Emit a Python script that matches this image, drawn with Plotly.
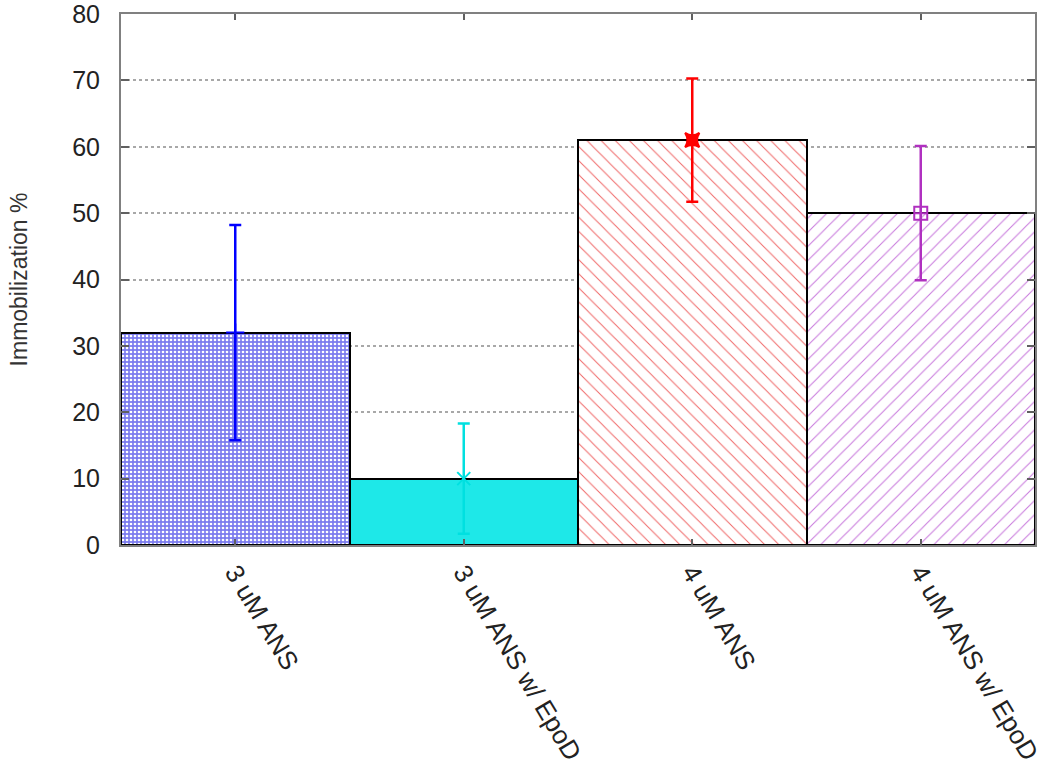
import plotly.graph_objects as go

categories = ["3 uM ANS", "3 uM ANS w/ EpoD", "4 uM ANS", "4 uM ANS w/ EpoD"]
values = [32.0, 10.0, 61.0, 50.0]
errors = [16.2, 8.3, 9.3, 10.1]
y_ticks = [0, 10, 20, 30, 40, 50, 60, 70, 80]

err_colors = ["#0000ff", "#00e0e0", "#ff0000", "#b030c0"]
err_symbols = ["cross-thin", "x-thin", "star-square", "square-cross-open"]

patterns = [
    dict(shape=".", fgcolor="#ffffff", bgcolor="#7c7cee", size=4, solidity=0.35, fillmode="replace"),
    dict(shape="", fgcolor="#1ee8e8", bgcolor="#1ee8e8"),
    dict(shape="\\", fgcolor="#f06868", bgcolor="#ffffff", size=10, solidity=0.1, fillmode="replace"),
    dict(shape="/", fgcolor="#c878dc", bgcolor="#ffffff", size=10, solidity=0.1, fillmode="replace"),
]
fills = ["#7c7cee", "#1ee8e8", "#ffffff", "#ffffff"]

fig = go.Figure()
for i, cat in enumerate(categories):
    fig.add_trace(go.Bar(
        x=[cat], y=[values[i]], width=1.0,
        marker=dict(color=fills[i], pattern=patterns[i], line=dict(color="#000000", width=2)),
        showlegend=False, hoverinfo="skip",
    ))
for i, cat in enumerate(categories):
    fig.add_trace(go.Scatter(
        x=[cat], y=[values[i]], mode="markers",
        marker=dict(symbol=err_symbols[i], color=err_colors[i], size=13,
                    line=dict(color=err_colors[i], width=2)),
        error_y=dict(type="data", array=[errors[i]], color=err_colors[i], thickness=2.5, width=6),
        showlegend=False,
    ))

fig.update_layout(
    width=1050, height=774,
    margin=dict(l=121, r=15, t=14, b=229),
    paper_bgcolor="#ffffff", plot_bgcolor="#ffffff",
    barmode="overlay", bargap=0,
    font=dict(family="Liberation Sans, Arial, sans-serif", color="#222222", size=20),
)
fig.update_xaxes(
    type="category", categoryorder="array", categoryarray=categories,
    range=[-0.5, 3.5], tickangle=59, automargin=False, ticklabeloverflow="allow",
    showline=True, linecolor="#808080", linewidth=2, mirror="ticks",
    ticks="inside", ticklen=6, tickcolor="#606060", tickwidth=1.5,
    tickfont=dict(size=26, color="#222222"), showgrid=False, zeroline=False,
)
fig.update_yaxes(
    range=[0, 80], tickvals=y_ticks, automargin=False, ticklabeloverflow="allow",
    showline=True, linecolor="#808080", linewidth=2, mirror="ticks",
    ticks="inside", ticklen=8, tickcolor="#606060", tickwidth=2,
    tickfont=dict(size=25, color="#222222"), ticklabelstandoff=14,
    showgrid=True, gridcolor="#a8a8a8", griddash="dot", gridwidth=1.5,
    zeroline=False,
    title=dict(text="Immobilization %", font=dict(size=23, color="#333333"), standoff=38),
)
fig.write_html(
    "out.html",
    config={"displayModeBar": False},
    post_script="document.body.style.margin='0';document.body.style.overflow='hidden';",
)
